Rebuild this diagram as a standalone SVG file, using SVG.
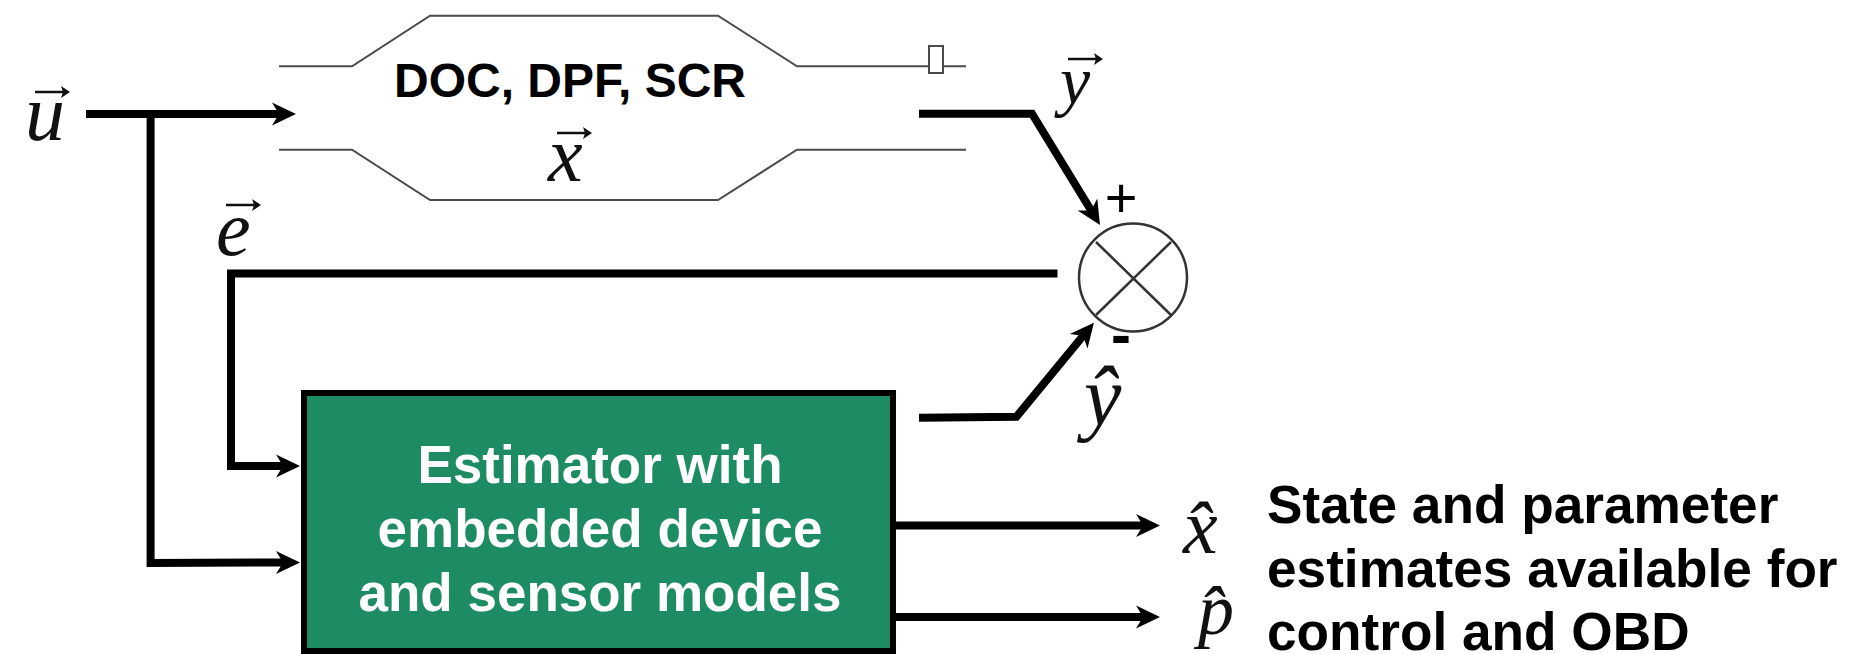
<svg xmlns="http://www.w3.org/2000/svg" width="1870" height="654" viewBox="0 0 1870 654">
<style>
.thin{fill:none;stroke:#4a4a4a;stroke-width:2}
.conn{fill:none;stroke:#000;stroke-width:8;stroke-linejoin:miter}
.t{font-family:"Liberation Sans",Arial,sans-serif;font-weight:700;fill:#000}
.d{font-size:48px}
.w{fill:#fff;font-size:53px;text-anchor:middle}
.n{font-size:53.2px}
.m{font-family:"Liberation Serif","Times New Roman",serif;font-style:italic;font-size:78px;fill:#111}
</style>
<defs>
<marker id="a" markerUnits="userSpaceOnUse" markerWidth="30" markerHeight="30" refX="10" refY="15" orient="auto" overflow="visible">
<path d="M0,3.5 L24,15 L0,26.5 L7,15z" fill="#000"/>
</marker>
<g id="v"><path d="M0,0H30" fill="none" stroke="#111" stroke-width="2.5"/><path d="M26,-6L35,0L26,6L28,0z" fill="#111"/></g>
</defs>
<rect width="1870" height="654" fill="#fff"/>
<g id="connectors">
<path class="conn" d="M86,114H282" marker-end="url(#a)"/>
<path class="conn" d="M150.6,114V563L286,562.5" marker-end="url(#a)"/>
<path class="conn" d="M1057.5,273.5H231V466H286" marker-end="url(#a)"/>
<path class="conn" d="M919,113.7H1032L1092.7,213" marker-end="url(#a)"/>
<path class="conn" d="M919,417.7L1016.4,416.7L1085,333.5" marker-end="url(#a)"/>
<path class="conn" d="M896,525.5H1146" marker-end="url(#a)"/>
<path class="conn" d="M896,617H1146" marker-end="url(#a)"/>
</g>
<g id="device">
<path class="thin" d="M279,66.3H352L430,15.7H718L797,66.3H966"/>
<path class="thin" d="M279,149.7H352L430,200H718L797,149.7H966"/>
<rect x="929" y="46" width="14" height="27" fill="#fff" stroke="#4a4a4a" stroke-width="2"/>
<text class="t d" x="394" y="96.5">DOC, DPF, SCR</text>
</g>
<g id="estimator">
<rect x="304" y="393" width="589" height="258" fill="#1e8c63" stroke="#000" stroke-width="6"/>
<text class="t w" x="600" y="483">Estimator with</text>
<text class="t w" x="600" y="547">embedded device</text>
<text class="t w" x="600" y="611">and sensor models</text>
</g>
<g id="junction">
<circle cx="1133" cy="277.5" r="54" fill="#fff" stroke="#333" stroke-width="2.5"/>
<path d="M1096,242L1171,315M1171,242L1096,315" fill="none" stroke="#333" stroke-width="2.5"/>
<text x="1121" y="217" text-anchor="middle" font-size="56" font-family="Liberation Sans, sans-serif">+</text>
<text class="t" x="1121" y="355" text-anchor="middle" font-size="60">-</text>
</g>
<g id="labels">
<g id="label-u"><text class="m" x="25" y="140" style="font-size:80px">u</text><use href="#v" x="35" y="92"/></g>
<g id="label-x"><text class="m" x="548" y="181">x</text><use href="#v" x="557" y="133"/></g>
<g id="label-e"><text class="m" x="216" y="255">e</text><use href="#v" x="226" y="205"/></g>
<g id="label-y"><text class="m" x="1060" y="104" style="font-size:68px">y</text><use href="#v" x="1068" y="59"/></g>
<text id="label-yhat" class="m" x="1084" y="425" style="font-size:84px">y&#x302;</text>
<text id="label-xhat" class="m" x="1183" y="553">x&#x302;</text>
<text id="label-phat" class="m" x="1198" y="634" style="font-size:72px">p&#x302;</text>
</g>
<g id="note">
<text class="t n" x="1267" y="523">State and parameter</text>
<text class="t n" x="1267" y="587">estimates available for</text>
<text class="t n" x="1267" y="650">control and OBD</text>
</g>
</svg>
